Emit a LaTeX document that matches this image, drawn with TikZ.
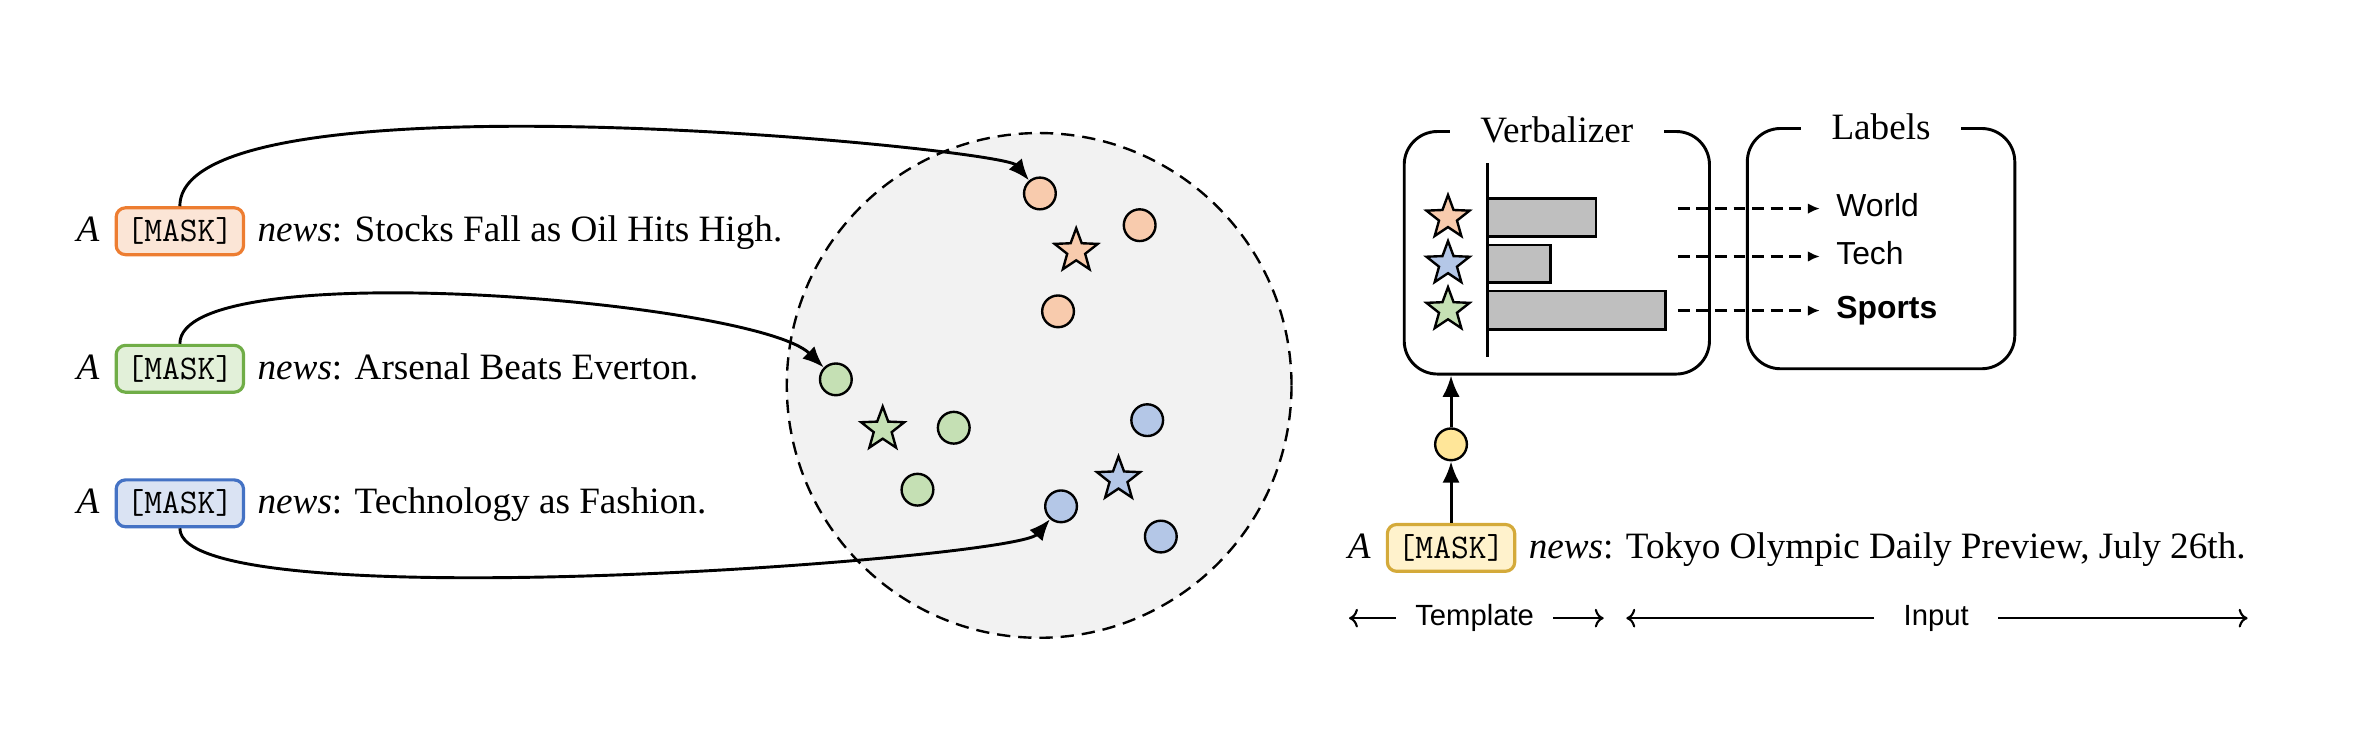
\documentclass[tikz,border=0pt]{standalone}
\usepackage{fontspec}
\setmainfont{Liberation Serif}
\setsansfont{Liberation Sans}
\usetikzlibrary{arrows.meta}
\usetikzlibrary{positioning}
\usetikzlibrary{shapes.geometric}

\definecolor{orline}{HTML}{ED7D31}
\definecolor{orfill}{HTML}{FBE5D6}
\definecolor{ordot}{HTML}{F8CBAD}
\definecolor{grline}{HTML}{70AD47}
\definecolor{grfill}{HTML}{E2F0D9}
\definecolor{grdot}{HTML}{C5E0B4}
\definecolor{blline}{HTML}{4472C4}
\definecolor{blfill}{HTML}{DAE3F3}
\definecolor{bldot}{HTML}{B4C7E7}
\definecolor{yeline}{HTML}{D4AA3A}
\definecolor{yefill}{HTML}{FFF2CC}
\definecolor{yedot}{HTML}{FFE699}
\definecolor{spacebg}{HTML}{F2F2F2}
\definecolor{barfill}{HTML}{BFBFBF}

\begin{document}
\begin{tikzpicture}[x=0.02cm, y=0.02cm,
	font=\fontsize{14}{16}\selectfont,
	txt/.style={inner sep=0pt},
	mask/.style={draw=#1line, fill=#1fill, line width=1.2pt, rounded corners=3.5pt,
		font=\ttfamily\fontsize{13}{13}\selectfont, inner xsep=3.9pt, inner ysep=0pt, minimum height=0.62cm},
	emb/.style={circle, draw, line width=0.9pt, fill=#1dot, minimum size=0.42cm, inner sep=0pt},
	proto/.style={star, star points=5, star point ratio=2.4, draw, line width=0.9pt, fill=#1dot, minimum size=0.6cm, inner sep=0pt},
	link/.style={line width=1.1pt, -{Latex[length=8pt,width=6.5pt]}},
	vlink/.style={line width=1pt, dash pattern=on 4.5pt off 2.5pt, -{Latex[length=4.5pt,width=4pt]}},
	spanarrow/.style={line width=0.8pt, ->},
	panel/.style={draw, line width=1.1pt, rounded corners=0.44cm},
	paneltitle/.style={fill=white, inner xsep=11.5pt, inner ysep=1pt},
	lab/.style={font=\sffamily\fontsize{12}{14}\selectfont, anchor=west, inner xsep=6pt, inner ysep=0pt, text height=1.6ex, text depth=0.3ex},
	span/.style={font=\sffamily\fontsize{11}{13}\selectfont, inner ysep=0pt}
	]
	\useasboundingbox (0,0) rectangle (1568,499);

	% embedding space
	\draw[line width=0.9pt, dash pattern=on 5pt off 3pt, fill=spacebg] (687.5,244) circle[radius=3.34cm];

	\node[emb=or] (o1) at (688,371) {};
	\node[emb=or] (o2) at (754,350) {};
	\node[emb=or] (o3) at (700,293) {};
	\node[proto=or] (so) at (712,333) {};

	\node[emb=gr] (g1) at (553,248) {};
	\node[emb=gr] (g2) at (631,216) {};
	\node[emb=gr] (g3) at (607,175) {};
	\node[proto=gr] (sg) at (584,215) {};

	\node[emb=bl] (b1) at (759,221) {};
	\node[emb=bl] (b2) at (702,164) {};
	\node[emb=bl] (b3) at (768,144) {};
	\node[proto=bl] (sb) at (740,182) {};

	% training sentences
	\node[mask=or] (m1) at (119,346) {[MASK]};
	\node[txt, base left=5.5pt of m1] (a1) {\textit{A}};
	\node[txt, base right=4.5pt of m1] (s1) {\textit{news}: Stocks Fall as Oil Hits High.};

	\node[mask=gr] (m2) at (119,255) {[MASK]};
	\node[txt, base left=5.5pt of m2] (a2) {\textit{A}};
	\node[txt, base right=4.5pt of m2] (s2) {\textit{news}: Arsenal Beats Everton.};

	\node[mask=bl] (m3) at (119,166) {[MASK]};
	\node[txt, base left=5.5pt of m3] (a3) {\textit{A}};
	\node[txt, base right=4.5pt of m3] (s3) {\textit{news}: Technology as Fashion.};

	\draw[link] (m1.north) .. controls +(0,92) and +(-25,30) .. (o1);
	\draw[link] (m2.north) .. controls +(0,60) and +(-53,52) .. (g1);
	\draw[link] (m3.south) .. controls +(0,-61.5) and +(-30,-35) .. (b2);

	% verbalizer and labels
	\node[panel, minimum width=4.04cm, minimum height=3.21cm] (verb) at (1030,331.75) {};
	\node[paneltitle] (vt) at (verb.north) {Verbalizer};
	\node[panel, minimum width=3.54cm, minimum height=3.18cm] (lbls) at (1244.5,334.5) {};
	\node[paneltitle] (lt) at (lbls.north) {Labels};

	\draw[line width=1pt] (984,391) -- (984,263);
	\draw[line width=1pt, fill=barfill] (984,342.5) rectangle (1056,367.5);
	\draw[line width=1pt, fill=barfill] (984,312) rectangle (1026,337);
	\draw[line width=1pt, fill=barfill] (984,281) rectangle (1102,306.5);
	\node[proto=or] (vo) at (958,355) {};
	\node[proto=bl] (vb) at (958,324.5) {};
	\node[proto=gr] (vg) at (958,294) {};

	\coordinate (d1) at (1110,361);
	\coordinate (d2) at (1110,329.3);
	\coordinate (d3) at (1110,293.5);
	\node[lab] (world) at (1204,361) {World};
	\node[lab] (tech) at (1204,329.3) {Tech};
	\node[lab] (sports) at (1204,293.5) {\textbf{Sports}};
	\draw[vlink] (d1) -- (world);
	\draw[vlink] (d2) -- (tech);
	\draw[vlink] (d3) -- (sports);

	% test sentence
	\node[emb=ye] (q) at (960,205) {};
	\node[mask=ye] (m4) at (960,136.5) {[MASK]};
	\node[txt, base left=5.5pt of m4] (a4) {\textit{A}};
	\node[txt, base right=4.5pt of m4] (s4) {\textit{news}: Tokyo Olympic Daily Preview, July 26th.};
	\draw[link] (m4) -- (q);
	\draw[link] (q) -- (q |- verb.south);

	% template / input spans
	\node[span, inner xsep=7pt] (tpl) at (975.6,90) {Template};
	\coordinate (tl) at (892.5,90);
	\coordinate (tr) at (1061,90);
	\draw[spanarrow] (tpl) -- (tl);
	\draw[spanarrow] (tpl) -- (tr);
	\node[span, inner xsep=11pt] (inp) at (1281,90) {Input};
	\coordinate (il) at (1076,90);
	\coordinate (ir) at (1487,90);
	\draw[spanarrow] (inp) -- (il);
	\draw[spanarrow] (inp) -- (ir);
\end{tikzpicture}
\end{document}
